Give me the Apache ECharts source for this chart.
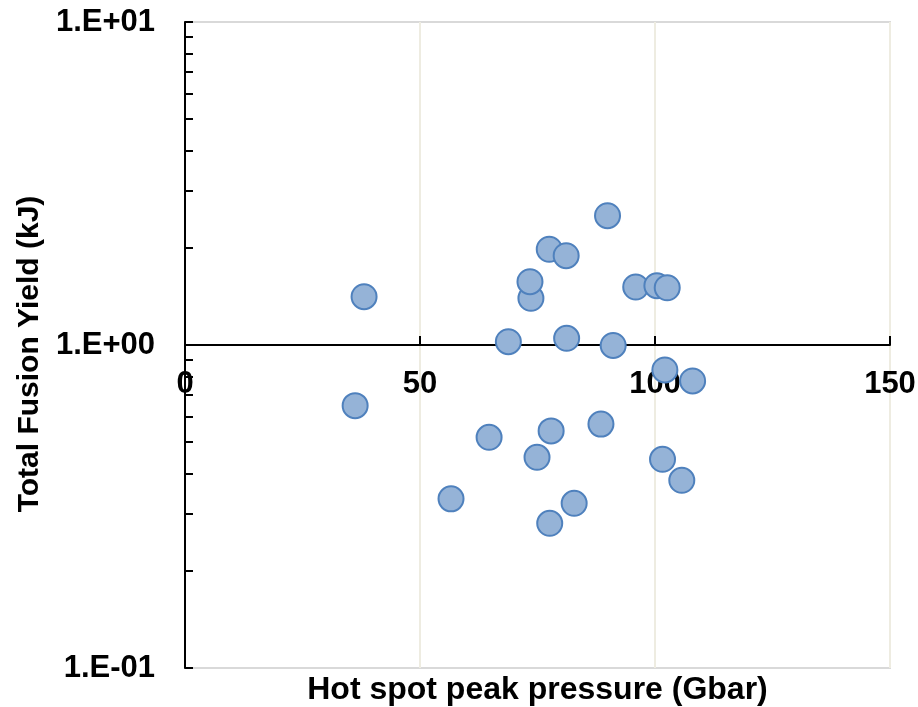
<!DOCTYPE html>
<html>
<head>
<meta charset="utf-8">
<script src="https://cdn.jsdelivr.net/npm/echarts@6/dist/echarts.min.js"></script>
<style>html,body{margin:0;padding:0;background:#fff;}#c{width:918px;height:707px;}</style>
</head>
<body>
<div id="c"></div>
<script>
// Hot spot peak pressure (Gbar)
const pressure = [38.1, 36.2, 56.6, 64.7, 68.8, 73.6, 73.4, 77.5, 81.1, 81.2, 89.9, 91.1, 95.9, 100.4, 102.6, 102.1, 108.0, 74.9, 77.9, 88.5, 77.6, 82.8, 101.6, 105.7];
// Total Fusion Yield (kJ)
const yieldKJ = [1.411, 0.649, 0.334, 0.518, 1.024, 1.395, 1.57, 1.979, 1.89, 1.049, 2.513, 0.997, 1.512, 1.526, 1.504, 0.837, 0.774, 0.449, 0.542, 0.569, 0.2805, 0.3235, 0.4428, 0.3812];
const xTicks = [0, 50, 100, 150];
const yLabelValues = [0.1, 1, 10];
const yLabelTexts = ['1.E-01', '1.E+00', '1.E+01'];
const yMinorTicks = [0.1,0.2,0.3,0.4,0.5,0.6,0.7,0.8,0.9,1,2,3,4,5,6,7,8,9,10];

const font = '"Liberation Sans", Arial, sans-serif';
const chart = echarts.init(document.getElementById('c'), null, {renderer: 'canvas'});
chart.setOption({
  animation: false,
  grid: {left: 185, right: 28, top: 22, bottom: 39, containLabel: false, outerBoundsMode: 'none',
    show: true, borderColor: '#D9D9D9', borderWidth: 2, backgroundColor: 'transparent'},
  xAxis: {
    type: 'value', min: 0, max: 150, interval: 50,
    position: 'bottom', offset: -323,
    axisLine: {onZero: false, lineStyle: {color: '#000', width: 2}},
    axisTick: {show: true, inside: true, length: 9, lineStyle: {color: '#000', width: 2}, customValues: xTicks},
    axisLabel: {customValues: xTicks, margin: 24, color: '#000', fontSize: 31, fontWeight: 'bold', fontFamily: font},
    splitLine: {show: true, lineStyle: {color: '#EEECE1', width: 2}},
    name: 'Hot spot peak pressure (Gbar)', nameLocation: 'middle', nameGap: 329,
    nameTextStyle: {color: '#000', fontSize: 32, fontWeight: 'bold', fontFamily: font}
  },
  yAxis: {
    type: 'log', logBase: 10, min: 0.1, max: 10, interval: 1,
    axisLine: {onZero: false, lineStyle: {color: '#000', width: 2}},
    axisTick: {show: true, inside: true, length: 8, lineStyle: {color: '#000', width: 2}, customValues: yMinorTicks},
    axisLabel: {customValues: yLabelValues, margin: 30, color: '#000', fontSize: 31, fontWeight: 'bold', fontFamily: font,
      formatter: function (v) { const i = yLabelValues.findIndex(t => Math.abs(t - v) < 1e-9); return i >= 0 ? yLabelTexts[i] : ''; }},
    splitLine: {show: false},
    name: 'Total Fusion Yield (kJ)', nameLocation: 'middle', nameGap: 140,
    nameTextStyle: {color: '#000', fontSize: 30, fontWeight: 'bold', fontFamily: font, padding: [0, 18, 0, 0]}
  },
  series: [{
    type: 'scatter',
    data: pressure.map((p, i) => [p, yieldKJ[i]]),
    symbol: 'circle', symbolSize: 25,
    itemStyle: {color: '#95B3D7', borderColor: '#4F81BD', borderWidth: 2, opacity: 1}
  }]
});
</script>
</body>
</html>
